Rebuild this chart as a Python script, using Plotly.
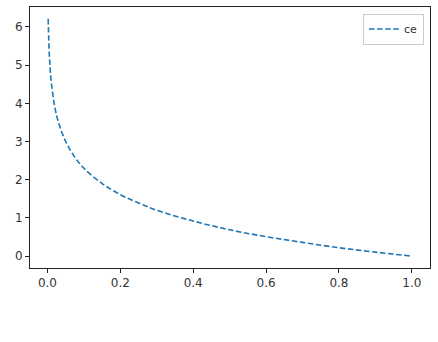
import plotly.graph_objects as go

# values
p = [0.002, 0.005, 0.01, 0.02, 0.03, 0.05, 0.075, 0.1, 0.15, 0.2, 0.25, 0.3,
     0.4, 0.5, 0.6, 0.7, 0.8, 0.9, 1.0]
ce = [6.21, 5.30, 4.61, 3.91, 3.51, 3.00, 2.59, 2.30, 1.90, 1.61, 1.39, 1.20,
      0.92, 0.69, 0.51, 0.36, 0.22, 0.105, 0.0]

x_ticks = [0.0, 0.2, 0.4, 0.6, 0.8, 1.0]
y_ticks = [0, 1, 2, 3, 4, 5, 6]

fig = go.Figure()
fig.add_trace(go.Scatter(x=p, y=ce, mode="lines", name="ce",
                         line=dict(color="#1f77b4", width=1.6, dash="5.5px,2.6px", shape="spline")))

axis_common = dict(showgrid=False, zeroline=False, showline=True, linecolor="#222",
                   linewidth=1, mirror=True, ticks="outside", ticklen=4,
                   tickcolor="#222", tickfont=dict(family="DejaVu Sans", size=12, color="#333"))

fig.update_layout(
    width=438, height=342,
    margin=dict(l=30, r=8, t=7, b=74),
    plot_bgcolor="white", paper_bgcolor="white",
    xaxis=dict(range=[-0.0479, 1.0499], tickvals=x_ticks,
               ticktext=[f"{v:.1f}" for v in x_ticks], **axis_common),
    yaxis=dict(range=[-0.31, 6.52], tickvals=y_ticks,
               ticktext=[str(v) for v in y_ticks], **axis_common),
    legend=dict(x=0.985, y=0.975, xanchor="right", yanchor="top",
                bordercolor="#ccc", borderwidth=1, bgcolor="white",
                itemwidth=30,
                font=dict(family="DejaVu Sans", size=11, color="#333")),
    showlegend=True,
)

fig.write_html("out.html")
